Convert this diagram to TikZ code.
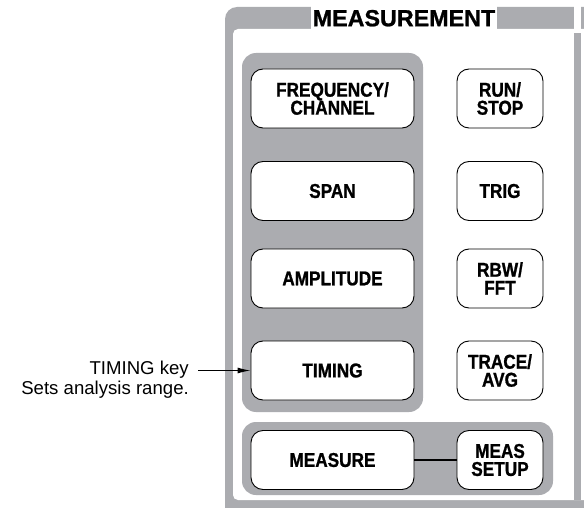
\documentclass[tikz,border=0pt]{standalone}
\usepackage{fontspec}
\setmainfont{Liberation Sans}
\newfontfamily\btnfont{Liberation Sans}[FakeStretch=0.86,FakeBold=1]
\newfontfamily\titlefont{Liberation Sans}[FakeBold=1]
\usetikzlibrary{arrows.meta}
\definecolor{panelgray}{RGB}{171,172,176}
\begin{document}
\begin{tikzpicture}[x=1pt,y=-1pt,
  btn/.style={draw=black, line width=0.9pt, fill=white, rounded corners=12pt,
    minimum height=59pt, inner sep=0pt, align=center,
    font=\btnfont\bfseries\fontsize{20}{18}\selectfont},
  widebtn/.style={btn, minimum width=163pt},
  narrowbtn/.style={btn, minimum width=86pt},
  grp/.style={fill=panelgray, rounded corners=14pt},
  note/.style={align=right, inner sep=0pt, font=\fontsize{18.6}{20.5}\selectfont},
  leader/.style={line width=1.2pt, -{Latex[length=13pt,width=6pt]}},
  link/.style={line width=2pt},
]
\useasboundingbox (0,0) rectangle (584,508);
\clip (0,0) rectangle (584,508);
% outer frame
\fill[panelgray, rounded corners=12pt] (225,7) rectangle (640,560);
\fill[white, rounded corners=5pt] (233,29) rectangle (640,500);
\fill[white] (574,0) rectangle (581,33);
\fill[panelgray] (574,33) rectangle (581,500);
% title
\node[fill=white, minimum width=186pt, minimum height=24pt, inner sep=0pt,
  text height=16.5pt, text depth=0pt, font=\titlefont\bfseries\fontsize{23.3}{24}\selectfont]
  (title) at (404,18) {MEASUREMENT};
% groups
\fill[grp] (242,53) rectangle (423,412);
\fill[grp] (242,422) rectangle (553,495);
% left keys
\node[widebtn] (freq) at (332.5,98.5) {FREQUENCY/\\CHANNEL};
\node[widebtn] (span) at (332.5,191) {SPAN};
\node[widebtn] (ampl) at (332.5,278.5) {AMPLITUDE};
\node[widebtn] (timing) at (332.5,370.5) {TIMING};
\node[widebtn] (measure) at (332.5,460) {MEASURE};
% right keys
\node[narrowbtn] (run) at (500,98.5) {RUN/\\STOP};
\node[narrowbtn] (trig) at (500,191) {TRIG};
\node[narrowbtn] (rbw) at (500,278.5) {RBW/\\FFT};
\node[narrowbtn] (trace) at (500,370.5) {TRACE/\\AVG};
\node[narrowbtn] (meassetup) at (500,460) {MEAS\\SETUP};
\draw[link] (measure.east) -- (meassetup.west);
% annotation
\node[note, anchor=east] (note) at (189,379.5) {TIMING key\\Sets analysis range.};
\coordinate (ldr) at (198,370.5);
\draw[leader] (ldr) -- (timing.west);
\end{tikzpicture}
\end{document}
